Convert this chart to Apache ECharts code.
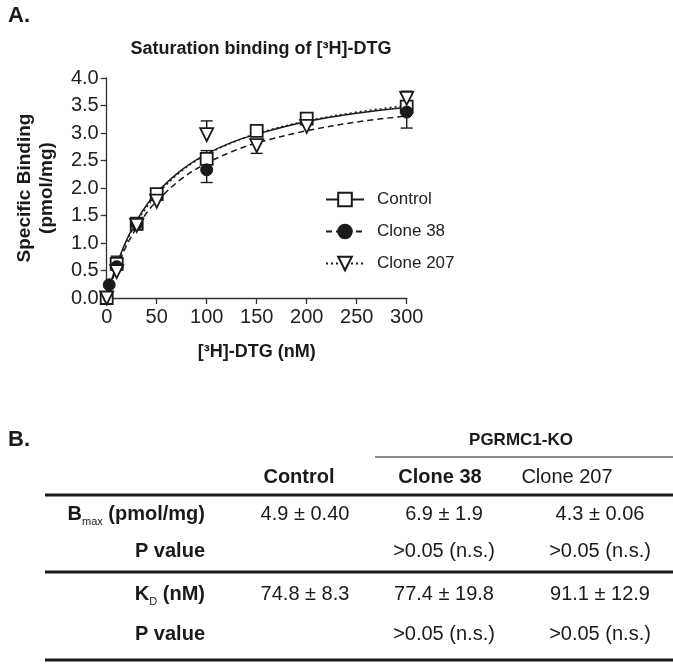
<!DOCTYPE html>
<html><head><meta charset="utf-8">
<script src="https://cdn.jsdelivr.net/npm/echarts@6/dist/echarts.min.js"></script>
<style>html,body{margin:0;padding:0;background:#fff}#c{width:673px;height:664px}</style>
</head><body><div id="c"></div>
<script>
// ---------- data ----------
const seriesNames = ['Control', 'Clone 38', 'Clone 207'];
const xTicks = [0, 50, 100, 150, 200, 250, 300];
const yTicks = [0.0, 0.5, 1.0, 1.5, 2.0, 2.5, 3.0, 3.5, 4.0];

const controlPoints = [[0, 0.0], [10, 0.62], [30, 1.35], [50, 1.89], [100, 2.53], [150, 3.04], [200, 3.26], [300, 3.48]];
const clone38Points = [[2.5, 0.24], [10, 0.57], [30, 1.35], [100, 2.33], [300, 3.38]];
const clone207Points = [[0, 0.0], [10, 0.48], [30, 1.32], [50, 1.76], [100, 2.97], [150, 2.77], [200, 3.12], [300, 3.63]];

// error bars: [x, mean, bar end]
const controlErr = [[10, 0.62, 0.76], [100, 2.53, 2.68], [300, 3.48, 3.70]];
const clone38Err = [[100, 2.33, 2.10], [300, 3.38, 3.09]];
const clone207Err = [[100, 2.97, 3.22], [150, 2.77, 2.63], [300, 3.63, 3.76]];

// fitted curves
const curveX = [0, 5, 10, 20, 30, 40, 50, 75, 100, 125, 150, 200, 250, 300];
const controlCurve = [0, 0.33, 0.61, 1.06, 1.41, 1.69, 1.92, 2.33, 2.62, 2.83, 2.98, 3.21, 3.36, 3.47];
const clone38Curve = [0, 0.29, 0.54, 0.96, 1.28, 1.55, 1.76, 2.17, 2.45, 2.66, 2.82, 3.04, 3.20, 3.31];
const clone207Curve = [0, 0.32, 0.59, 1.03, 1.38, 1.65, 1.88, 2.31, 2.61, 2.82, 2.99, 3.22, 3.38, 3.50];

// table (panel B)
const tableHeaders = ['Control', 'Clone 38', 'Clone 207'];
const bmaxValues = ['4.9 ± 0.40', '6.9 ± 1.9', '4.3 ± 0.06'];
const bmaxP = ['', '>0.05 (n.s.)', '>0.05 (n.s.)'];
const kdValues = ['74.8 ± 8.3', '77.4 ± 19.8', '91.1 ± 12.9'];
const kdP = ['', '>0.05 (n.s.)', '>0.05 (n.s.)'];

// ---------- chart ----------
const FONT = "'Liberation Sans', Arial, sans-serif";
const INK = '#1a1a1a';
const chart = echarts.init(document.getElementById('c'));

const styles = [
  { symbol: 'rect', rotate: 0, item: { color: '#fff', borderColor: INK, borderWidth: 1.8, opacity: 1 }, line: 'solid' },
  { symbol: 'circle', rotate: 0, item: { color: INK, borderColor: INK, borderWidth: 1, opacity: 1 }, line: [6, 4] },
  { symbol: 'triangle', rotate: 180, item: { color: '#fff', borderColor: INK, borderWidth: 1.8, opacity: 1 }, line: [2, 3] }
];
const pointSets = [controlPoints, clone38Points, clone207Points];
const errSets = [controlErr, clone38Err, clone207Err];
const curveSets = [controlCurve, clone38Curve, clone207Curve];

const series = [];
seriesNames.forEach((name, i) => {
  series.push({
    name: name, type: 'line', smooth: 0.35, showSymbol: false,
    symbol: styles[i].symbol, symbolRotate: styles[i].rotate,
    data: curveX.map((x, k) => [x, curveSets[i][k]]),
    lineStyle: { color: INK, width: 1.5, type: styles[i].line },
    itemStyle: styles[i].item,
    z: 2, silent: true
  });
});
seriesNames.forEach((name, i) => {
  series.push({
    name: name + ' err', type: 'custom', z: 3, silent: true,
    data: errSets[i],
    encode: { x: 0, y: [1, 2] },
    renderItem: function (params, api) {
      const p0 = api.coord([api.value(0), api.value(1)]);
      const p1 = api.coord([api.value(0), api.value(2)]);
      const hw = 6;
      return {
        type: 'group', children: [
          { type: 'line', shape: { x1: p0[0], y1: p0[1], x2: p1[0], y2: p1[1] }, style: { stroke: INK, lineWidth: 1.4 } },
          { type: 'line', shape: { x1: p1[0] - hw, y1: p1[1], x2: p1[0] + hw, y2: p1[1] }, style: { stroke: INK, lineWidth: 1.4 } }
        ]
      };
    }
  });
});
seriesNames.forEach((name, i) => {
  series.push({
    name: name + ' points', type: 'scatter', z: 4, silent: true,
    symbol: styles[i].symbol, symbolRotate: styles[i].rotate,
    symbolSize: i === 2 ? 13 : 12,
    data: pointSets[i],
    itemStyle: styles[i].item
  });
});

// table graphics
const headerX = [299, 440, 567];
const valueX = [305, 444, 600];
const labelRight = 205;
const rowY = [514, 551, 594, 634];
const gfx = [];
function txt(x, y, text, opts) {
  gfx.push({ type: 'text', x: x, y: y, style: Object.assign({
    text: text, font: '20px ' + FONT, fill: INK, align: 'center', verticalAlign: 'middle'
  }, opts || {}) });
}
function hline(x1, x2, y, w) {
  gfx.push({ type: 'line', shape: { x1: x1, y1: y, x2: x2, y2: y }, style: { stroke: INK, lineWidth: w } });
}
txt(8, 16, 'A.', { align: 'left', font: 'bold 22px ' + FONT });
txt(8, 440, 'B.', { align: 'left', font: 'bold 22px ' + FONT });
txt(521, 440, 'PGRMC1-KO', { font: 'bold 17px ' + FONT });
hline(375, 673, 457, 1.2);
tableHeaders.forEach((h, i) => txt(headerX[i], 477, h, { font: (i < 2 ? 'bold ' : '') + '20px ' + FONT }));
hline(45, 673, 495, 3);
hline(45, 673, 572, 3);
hline(45, 673, 660, 3);
const richLabel = {
  b: { font: 'bold 20px ' + FONT, fill: INK, lineHeight: 26 },
  s: { font: '11px ' + FONT, fill: INK, lineHeight: 12, verticalAlign: 'bottom' }
};
gfx.push({ type: 'text', x: labelRight, y: rowY[0], style: {
  text: '{b|B}{s|max}{b| (pmol/mg)}', align: 'right', verticalAlign: 'middle', rich: richLabel } });
gfx.push({ type: 'text', x: labelRight, y: rowY[2], style: {
  text: '{b|K}{s|D}{b| (nM)}', align: 'right', verticalAlign: 'middle', rich: richLabel } });
txt(labelRight, rowY[1], 'P value', { align: 'right', font: 'bold 20px ' + FONT });
txt(labelRight, rowY[3], 'P value', { align: 'right', font: 'bold 20px ' + FONT });
[bmaxValues, bmaxP, kdValues, kdP].forEach((row, r) => {
  row.forEach((v, i) => { if (v) txt(valueX[i], rowY[r], v); });
});

const option = {
  animation: false,
  backgroundColor: '#fff',
  textStyle: { fontFamily: FONT, color: INK },
  title: {
    text: 'Saturation binding of [³H]-DTG', left: 256, top: 35, textAlign: 'center',
    textStyle: { fontFamily: FONT, fontSize: 18, fontWeight: 'bold', color: INK }
  },
  legend: {
    orient: 'vertical', left: 320, top: 186, itemWidth: 38, itemHeight: 17, itemGap: 15,
    data: seriesNames, selectedMode: false,
    textStyle: { fontFamily: FONT, fontSize: 17, color: '#222', padding: [0, 0, 0, 8] }
  },
  grid: { left: 106.7, right: 266.3, top: 78, bottom: 366, containLabel: false },
  xAxis: {
    type: 'value', min: 0, max: 300, interval: 50,
    name: '[³H]-DTG (nM)', nameLocation: 'middle', nameGap: 45,
    nameTextStyle: { fontFamily: FONT, fontSize: 18, fontWeight: 'bold', color: INK },
    axisLine: { lineStyle: { color: '#333', width: 1.3 } },
    axisTick: { length: 6, lineStyle: { color: '#333', width: 1.3 } },
    axisLabel: { fontFamily: FONT, fontSize: 20, color: '#222', margin: 9, formatter: v => xTicks.includes(v) ? String(v) : '' },
    splitLine: { show: false }
  },
  yAxis: {
    type: 'value', min: 0, max: 4, interval: 0.5,
    name: 'Specific Binding\n(pmol/mg)', nameLocation: 'middle', nameGap: 49,
    nameTextStyle: { fontFamily: FONT, fontSize: 19, fontWeight: 'bold', color: INK, lineHeight: 22 },
    axisLine: { show: true, lineStyle: { color: '#333', width: 1.3 } },
    axisTick: { show: true, length: 6, lineStyle: { color: '#333', width: 1.3 } },
    axisLabel: { fontFamily: FONT, fontSize: 20, color: '#222', margin: 8,
      formatter: v => { const t = yTicks.find(y => Math.abs(y - v) < 1e-9); return t === undefined ? '' : t.toFixed(1); } },
    splitLine: { show: false }
  },
  series: series,
  graphic: gfx
};
chart.setOption(option);
</script></body></html>
